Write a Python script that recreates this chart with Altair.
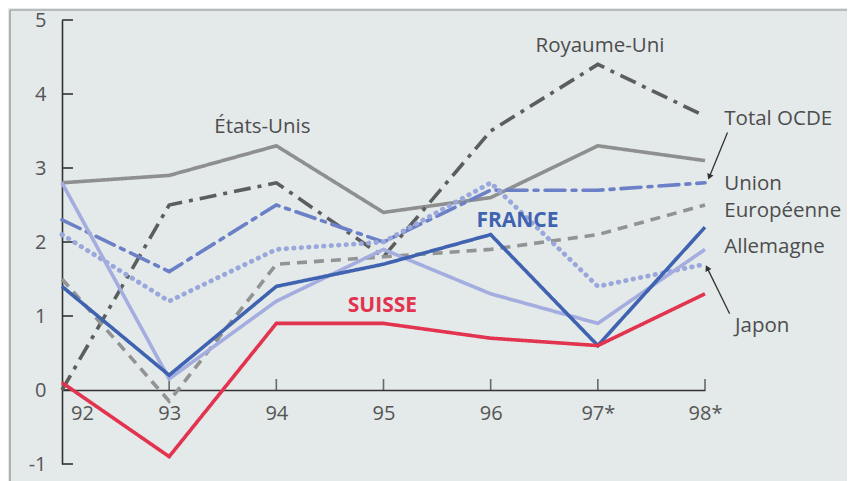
import altair as alt
import pandas as pd

years = [92, 93, 94, 95, 96, 97, 98]

series_names = ["États-Unis", "Royaume-Uni", "Total OCDE", "Union Européenne",
                "Japon", "Allemagne", "France", "Suisse"]
etats_unis = [2.8, 2.9, 3.3, 2.4, 2.6, 3.3, 3.1]
royaume_uni = [0.0, 2.5, 2.8, 1.8, 3.5, 4.4, 3.7]
total_ocde = [2.3, 1.6, 2.5, 2.0, 2.7, 2.7, 2.8]
union_eur = [1.5, -0.15, 1.7, 1.8, 1.9, 2.1, 2.5]
japon = [2.1, 1.2, 1.9, 2.0, 2.8, 1.4, 1.7]
allemagne = [2.8, 0.15, 1.2, 1.9, 1.3, 0.9, 1.9]
france = [1.4, 0.2, 1.4, 1.7, 2.1, 0.6, 2.2]
suisse = [0.1, -0.9, 0.9, 0.9, 0.7, 0.6, 1.3]
values = [etats_unis, royaume_uni, total_ocde, union_eur, japon, allemagne, france, suisse]

colors = ["#8e8f8f", "#5c5e5e", "#6b80c6", "#929393", "#9aa7dc", "#a4addf", "#3f63b0", "#e2334f"]
dashes = [[1, 0], [17, 7, 4, 7], [20, 7, 4, 7], [10, 7], [0.5, 7], [1, 0], [1, 0], [1, 0]]
caps = ["butt", "butt", "round", "butt", "round", "butt", "butt", "butt"]

y_ticks = [-1, 0, 1, 2, 3, 4, 5]
y_labels = ["-1", "0", "1", "2", "3", "4", "5"]
x_ticks = [93, 94, 95, 96, 97, 98]

ann_text = ["États-Unis", "Royaume-Uni", "FRANCE", "SUISSE", "Total OCDE",
            "Union", "Européenne", "Allemagne", "Japon"]
ann_x = [93.87, 97.02, 96.25, 94.99, 98.18, 98.18, 98.18, 98.18, 98.28]
ann_y = [3.55, 4.65, 2.28, 1.14, 3.66, 2.78, 2.42, 1.93, 0.86]
ann_color = ["#4d4d4d", "#4d4d4d", "#3f63b0", "#e2334f", "#4d4d4d",
             "#4d4d4d", "#4d4d4d", "#4d4d4d", "#4d4d4d"]
ann_weight = ["normal", "normal", "bold", "bold", "normal", "normal", "normal", "normal", "normal"]
ann_align = ["center", "center", "center", "center", "left", "left", "left", "left", "left"]

arrow_x = [98.21, 98.23]
arrow_y = [3.48, 1.03]
arrow_x2 = [98.04, 98.02]
arrow_y2 = [2.88, 1.65]
arrow_angle = [201.8, 333.0]

W, H = 643, 444
xs = alt.Scale(domain=[92, 98], nice=False, zero=False)
ys = alt.Scale(domain=[-1, 5], nice=False, zero=False)
FONT = "Open Sans"

yaxis = alt.Chart(pd.DataFrame({"v": y_ticks})).mark_rule(
    color="#333333", strokeWidth=1.6
).encode(
    y=alt.Y("v:Q", scale=ys, axis=alt.Axis(values=y_ticks, grid=False, ticks=False, tickSize=0,
                                           labelExpr="datum.value < 0 ? '-' + abs(datum.value) : '' + datum.value",
                                           labelBound=False,
                                           domainColor="#333333", domainWidth=1.6,
                                           labelFontSize=20, labelColor="#555555", labelFont=FONT,
                                           labelPadding=16, title=None)),
    x=alt.value(0), x2=alt.value(11),
)

xtick = alt.Chart(pd.DataFrame({"v": x_ticks})).mark_tick(
    color="#333333", thickness=1.6, size=11, orient="vertical", yOffset=-5.5
).encode(
    x=alt.X("v:Q", scale=xs, axis=alt.Axis(values=years, grid=False, ticks=False, tickSize=0,
                                           domainColor="#333333", domainWidth=1.6, offset=-74,
                                           labelFontSize=20, labelColor="#555555", labelFont=FONT,
                                           labelPadding=13, title=None, labelFlush=False,
                                           labelExpr="datum.value >= 97 ? datum.value + '*' : datum.value",
                                           labelOffset={"condition": {"test": "datum.value == 92", "value": 20}, "value": 0})),
    y=alt.datum(0),
)

layers = [yaxis, xtick]

for name, vals, col, dash, cap in zip(series_names, values, colors, dashes, caps):
    df = pd.DataFrame({"year": years, "value": vals})
    w = 4.8 if name == "Japon" else 3.6
    layers.append(
        alt.Chart(df).mark_line(color=col, strokeDash=dash, strokeWidth=w, strokeCap=cap,
                                strokeJoin="miter").encode(
            x=alt.X("year:Q", scale=xs),
            y=alt.Y("value:Q", scale=ys),
        )
    )

ann = pd.DataFrame({"t": ann_text, "x": ann_x, "y": ann_y, "c": ann_color,
                    "w": ann_weight, "a": ann_align})
for al in ["center", "left"]:
    for wt in ["normal", "bold"]:
        sub = ann[(ann["a"] == al) & (ann["w"] == wt)]
        if len(sub) == 0:
            continue
        layers.append(
            alt.Chart(sub).mark_text(font=FONT, fontSize=21 if wt == "bold" else 20.5,
                                     fontWeight=wt, align=al,
                                     baseline="middle").encode(
                x=alt.X("x:Q", scale=xs), y=alt.Y("y:Q", scale=ys),
                text="t:N", color=alt.Color("c:N", scale=None),
            )
        )

arr = pd.DataFrame({"x": arrow_x, "y": arrow_y, "x2": arrow_x2, "y2": arrow_y2, "ang": arrow_angle})
layers.append(alt.Chart(arr).mark_rule(color="#333333", strokeWidth=1.3).encode(
    x=alt.X("x:Q", scale=xs), y=alt.Y("y:Q", scale=ys), x2="x2:Q", y2="y2:Q"))
layers.append(alt.Chart(arr).mark_point(shape="triangle-up", filled=True, color="#333333",
                                        size=45, opacity=1).encode(
    x=alt.X("x2:Q", scale=xs), y=alt.Y("y2:Q", scale=ys),
    angle=alt.Angle("ang:Q", scale=None)))

# page frame lines (decorative)
layers.append(alt.Chart(pd.DataFrame({"k": [0]})).mark_rule(color="#8d8d8d", strokeWidth=1.2).encode(
    x=alt.value(-52), y=alt.value(-10), y2=alt.value(480)))
layers.append(alt.Chart(pd.DataFrame({"k": [0]})).mark_rule(color="#8d8d8d", strokeWidth=1.2).encode(
    x=alt.value(-52), x2=alt.value(800), y=alt.value(-10)))

chart = alt.layer(*layers).properties(
    width=W, height=H,
    autosize=alt.AutoSizeParams(type="none"),
    padding={"left": 54, "top": 12, "right": 142, "bottom": 17},
    background="#e4e9e9",
).configure_view(stroke=None)

chart.save("out.html", embed_options={"renderer": "svg", "actions": False})
